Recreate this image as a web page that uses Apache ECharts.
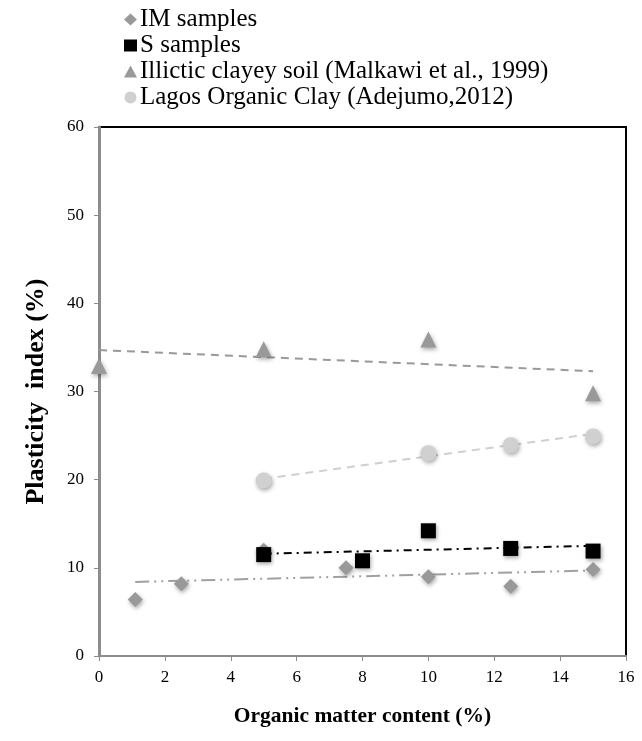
<!DOCTYPE html>
<html><head><meta charset="utf-8">
<script src="https://cdn.jsdelivr.net/npm/echarts@6/dist/echarts.min.js"></script>
<style>html,body{margin:0;padding:0;background:#fff}#c{width:642px;height:741px}</style>
</head><body><div id="c"></div>
<script>
const imX = [1.1, 2.5, 5, 7.5, 10, 12.5, 15];
const imY = [6.4, 8.2, 12.0, 10.0, 9.0, 7.9, 9.8];
const sX = [5, 8, 10, 12.5, 15];
const sY = [11.5, 10.8, 14.2, 12.2, 11.9];
const ilX = [0, 5, 10, 15];
const ilY = [32.9, 34.8, 35.9, 29.8];
const lgX = [5, 10, 12.5, 15];
const lgY = [19.9, 23.0, 23.9, 24.9];
// trendline endpoints
const imTrendX = [1.1, 15], imTrendY = [8.4, 9.7];
const sTrendX = [5, 15], sTrendY = [11.6, 12.5];
const ilTrendX = [0, 15], ilTrendY = [34.7, 32.3];
const lgTrendX = [5, 15], lgTrendY = [20.1, 25.2];
const names = ['IM samples', 'S samples', 'Illictic clayey soil (Malkawi et al., 1999)', 'Lagos Organic Clay (Adejumo,2012)'];
const xTicks = [0, 2, 4, 6, 8, 10, 12, 14, 16];
const yTicks = [0, 10, 20, 30, 40, 50, 60];

const zip = (a, b) => a.map((v, i) => [v, b[i]]);
const shadow = {opacity: 1, shadowBlur: 4, shadowColor: 'rgba(0,0,0,0.35)', shadowOffsetX: 1, shadowOffsetY: 2};
const serif = '"Liberation Serif", "DejaVu Serif", serif';

const chart = echarts.init(document.getElementById('c'));
chart.setOption({
  animation: false,
  textStyle: {fontFamily: serif},
  legend: {
    data: [
      {name: names[0], icon: 'diamond', itemStyle: {color: '#999'}},
      {name: names[1], icon: 'rect', itemStyle: {color: '#000'}},
      {name: names[2], icon: 'triangle', itemStyle: {color: '#999'}},
      {name: names[3], icon: 'circle', itemStyle: {color: '#d0d0d0'}}
    ],
    orient: 'vertical', left: 119, top: 2,
    itemWidth: 13, itemHeight: 12, itemGap: 1,
    textStyle: {fontFamily: serif, fontSize: 25, color: '#000', lineHeight: 25, padding: [0, 0, 0, -2]}
  },
  grid: {left: 99, right: 16, top: 127, bottom: 85, show: true, borderColor: '#000', borderWidth: 2, backgroundColor: '#fff'},
  xAxis: {
    type: 'value', min: 0, max: 16, interval: 2,
    axisLine: {show: true, lineStyle: {color: '#8c8c8c', width: 2}},
    axisTick: {show: true, length: 5, lineStyle: {color: '#8c8c8c'}},
    splitLine: {show: false},
    axisLabel: {fontFamily: serif, fontSize: 17, color: '#000', margin: 13},
    name: 'Organic matter content (%)', nameLocation: 'middle', nameGap: 49,
    nameTextStyle: {fontFamily: serif, fontSize: 21.5, fontWeight: 'bold', color: '#000'}
  },
  yAxis: {
    type: 'value', min: 0, max: 60, interval: 10,
    axisLine: {show: true, lineStyle: {color: '#8c8c8c', width: 3}},
    axisTick: {show: true, length: 5, lineStyle: {color: '#8c8c8c'}},
    splitLine: {show: false},
    axisLabel: {fontFamily: serif, fontSize: 17, color: '#000', margin: 15},
    name: 'Plasticity  index (%)', nameLocation: 'middle', nameGap: 50,
    nameTextStyle: {fontFamily: serif, fontSize: 26, fontWeight: 'bold', color: '#000'}
  },
  series: [
    {name: 'trend1', type: 'line', data: zip(imTrendX, imTrendY), showSymbol: false, silent: true,
      lineStyle: {color: '#a0a0a0', width: 2, type: [14, 5, 2, 5, 2, 5]}, z: 1},
    {name: 'trend2', type: 'line', data: zip(sTrendX, sTrendY), showSymbol: false, silent: true,
      lineStyle: {color: '#000', width: 2, type: [8, 5, 2, 5]}, z: 1},
    {name: 'trend3', type: 'line', data: zip(ilTrendX, ilTrendY), showSymbol: false, silent: true,
      lineStyle: {color: '#999', width: 2, type: [8, 6]}, z: 1},
    {name: 'trend4', type: 'line', data: zip(lgTrendX, lgTrendY), showSymbol: false, silent: true,
      lineStyle: {color: '#cfcfcf', width: 2, type: [8, 6]}, z: 1},
    {name: names[0], type: 'scatter', symbol: 'diamond', symbolSize: 15, data: zip(imX, imY),
      itemStyle: Object.assign({color: '#999'}, shadow), z: 3},
    {name: names[2], type: 'scatter', symbol: 'triangle', symbolSize: 16, data: zip(ilX, ilY),
      itemStyle: Object.assign({color: '#999'}, shadow), z: 3},
    {name: names[3], type: 'scatter', symbol: 'circle', symbolSize: 16, data: zip(lgX, lgY),
      itemStyle: Object.assign({color: '#d0d0d0'}, shadow), z: 3},
    {name: names[1], type: 'scatter', symbol: 'rect', symbolSize: 15, data: zip(sX, sY),
      itemStyle: Object.assign({color: '#000'}, shadow), z: 4}
  ]
});
</script></body></html>
